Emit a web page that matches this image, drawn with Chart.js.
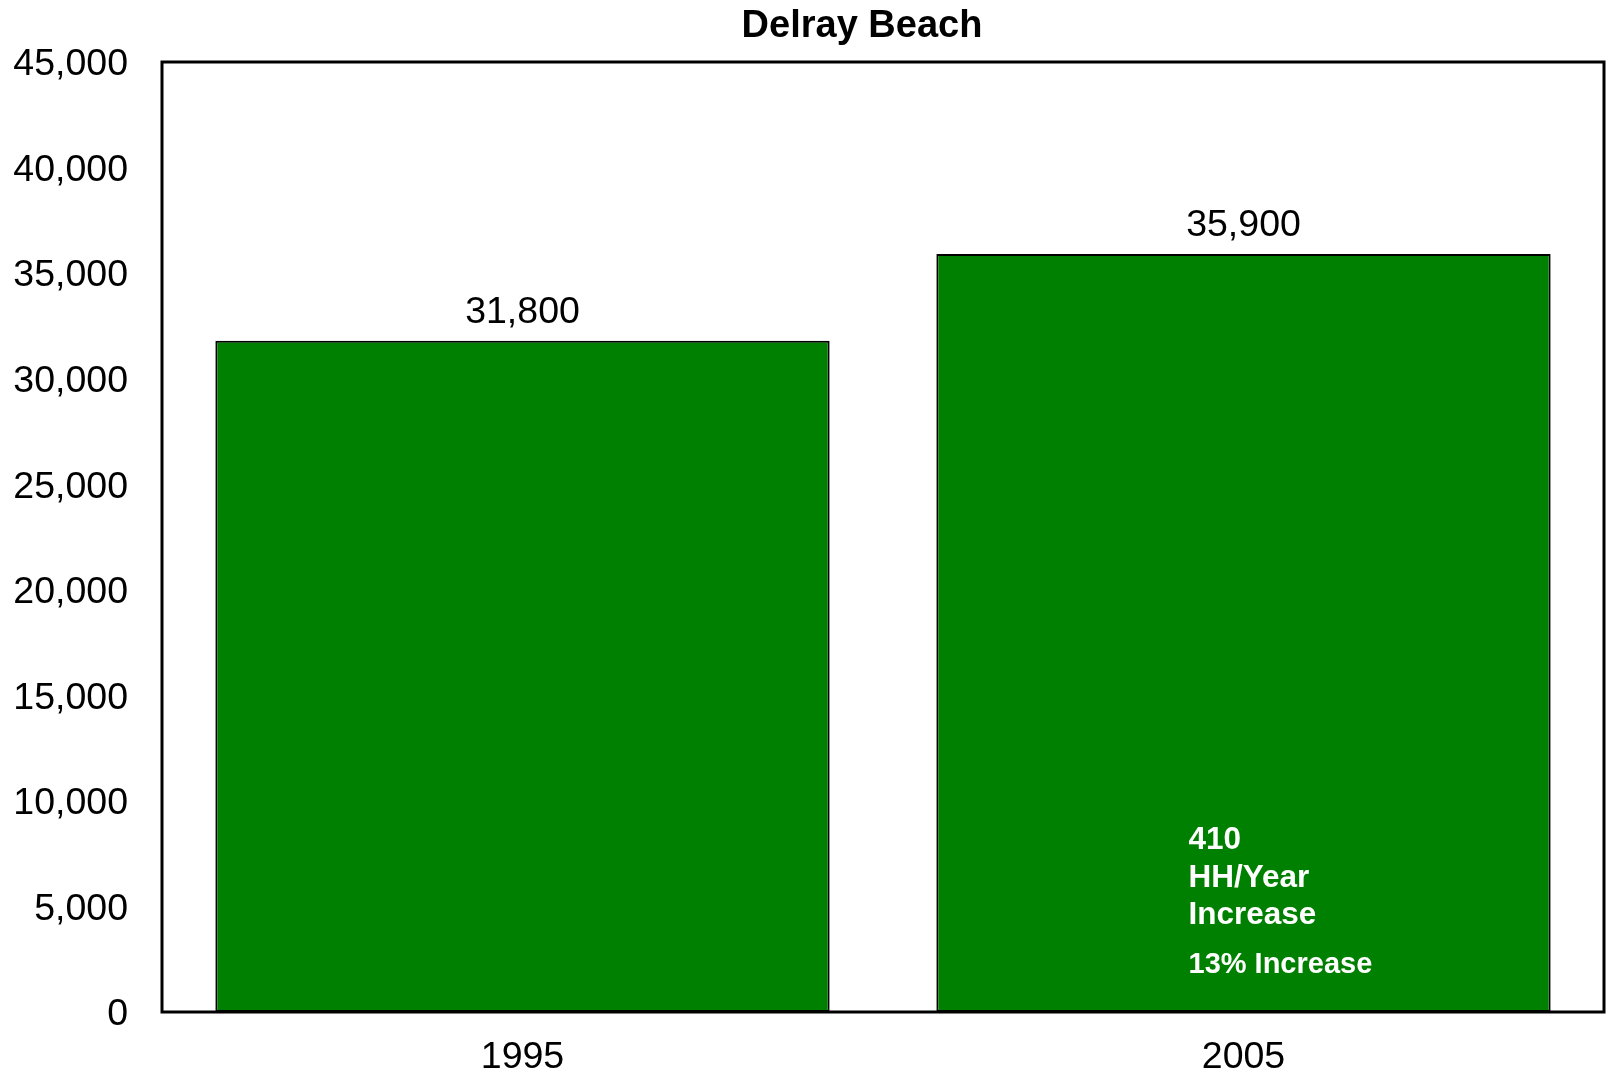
<!DOCTYPE html>
<html>
<head>
<meta charset="utf-8">
<style>
  html, body { margin: 0; padding: 0; background: #ffffff; }
  #wrap { width: 1612px; height: 1078px; position: relative; }
</style>
<script src="https://cdn.jsdelivr.net/npm/chart.js@4/dist/chart.umd.min.js"></script>
</head>
<body>
<div id="wrap"><canvas id="c" width="1612" height="1078"></canvas></div>
<script>
const chartTitle = "Delray Beach";
const categories = ["1995", "2005"];
const households = [31800, 35900];
const yTickValues = [0, 5000, 10000, 15000, 20000, 25000, 30000, 35000, 40000, 45000];
const annotationLines = ["410", "HH/Year", "Increase"];
const annotationNote = "13% Increase";

const FONT = "'Liberation Sans', Arial, Helvetica, sans-serif";

const fmt = v => v.toLocaleString('en-US');

const overlayPlugin = {
  id: 'overlay',
  afterDatasetsDraw(chart) {
    const ctx = chart.ctx;
    const area = chart.chartArea;
    const meta = chart.getDatasetMeta(0);
    ctx.save();
    // value labels above bars
    ctx.fillStyle = '#000000';
    ctx.font = `37.5px ${FONT}`;
    ctx.textAlign = 'center';
    ctx.textBaseline = 'alphabetic';
    meta.data.forEach((bar, i) => {
      ctx.fillText(fmt(households[i]), bar.x, bar.y - 18);
    });
    // annotation inside second bar
    const bar2 = meta.data[1];
    const ax = bar2.x - 55;
    ctx.fillStyle = '#ffffff';
    ctx.textAlign = 'left';
    ctx.font = `bold 31.5px ${FONT}`;
    const bottoms = [163, 125, 88];
    annotationLines.forEach((t, i) => {
      ctx.fillText(t, ax, area.bottom - bottoms[i]);
    });
    ctx.font = `bold 29px ${FONT}`;
    ctx.fillText(annotationNote, ax, area.bottom - 39);
    // plot frame
    ctx.strokeStyle = '#000000';
    ctx.lineWidth = 3;
    ctx.strokeRect(area.left, area.top, area.right - area.left, area.bottom - area.top);
    // title
    ctx.fillStyle = '#000000';
    ctx.font = `bold 38px ${FONT}`;
    ctx.textAlign = 'center';
    ctx.fillText(chartTitle, 862, 37);
    ctx.restore();
  }
};

new Chart(document.getElementById('c'), {
  type: 'bar',
  data: {
    labels: categories,
    datasets: [{
      data: households,
      backgroundColor: '#008000',
      borderColor: '#000000',
      borderWidth: 2,
      borderSkipped: false,
      categoryPercentage: 1.0,
      barPercentage: 0.852
    }]
  },
  options: {
    responsive: false,
    animation: false,
    devicePixelRatio: 1,
    layout: { padding: { top: 62, right: 8, left: 0, bottom: 0 } },
    plugins: {
      legend: { display: false },
      title: { display: false },
      tooltip: { enabled: false }
    },
    scales: {
      x: {
        grid: { display: false, drawTicks: false },
        border: { display: false },
        ticks: { color: '#000000', font: { family: FONT, size: 37.5 }, padding: 23 },
        afterFit(scale) { scale.height = 66; }
      },
      y: {
        min: 0,
        max: 45000,
        grid: { display: false, drawTicks: false },
        border: { display: false },
        afterBuildTicks(scale) { scale.ticks = yTickValues.map(v => ({ value: v })); },
        ticks: {
          color: '#000000',
          font: { family: FONT, size: 37.5 },
          padding: 34,
          labelOffset: 3,
          callback: v => fmt(v)
        },
        afterFit(scale) { scale.width = 162; }
      }
    }
  },
  plugins: [overlayPlugin]
});
</script>
</body>
</html>
